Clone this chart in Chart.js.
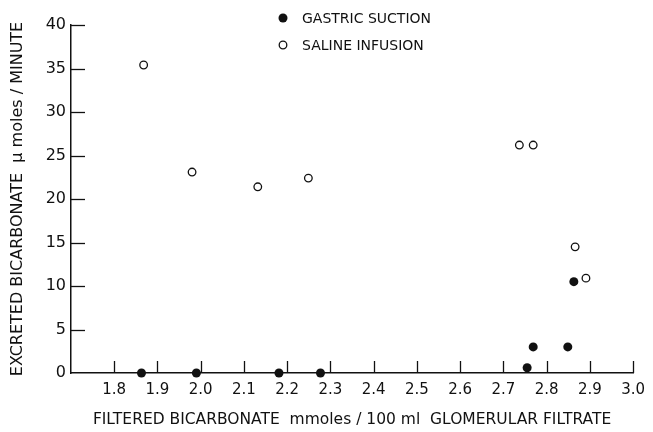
<!DOCTYPE html>
<html>
<head>
<meta charset="utf-8">
<script src="https://cdn.jsdelivr.net/npm/chart.js@4/dist/chart.umd.min.js"></script>
<style>
  html, body { margin: 0; padding: 0; background: #fff; }
  #wrap { width: 653px; height: 432px; }
</style>
</head>
<body>
<div id="wrap"><canvas id="grafico"></canvas></div>
<script>
// valores
const gastricX = [1.863, 1.990, 2.181, 2.277, 2.755, 2.769, 2.849, 2.863];
const gastricY = [0, 0, 0, 0, 0.6, 3.0, 3.0, 10.5];
const salineX = [1.868, 1.980, 2.132, 2.249, 2.737, 2.769, 2.866, 2.891];
const salineY = [35.4, 23.1, 21.4, 22.4, 26.2, 26.2, 14.5, 10.9];

const legendaTextos = ['GASTRIC SUCTION', 'SALINE INFUSION'];
const tituloX = 'FILTERED BICARBONATE  mmoles / 100 ml  GLOMERULAR FILTRATE';
const tituloY = 'EXCRETED BICARBONATE  μ moles / MINUTE';

const FONTE = '"DejaVu Sans", sans-serif';
const PRETO = '#111';

const pontos = (xs, ys) => xs.map((x, i) => ({ x: x, y: ys[i] }));

// marcas de escala para dentro + legenda
const marcasInternas = {
    id: 'marcasInternas',
    afterDraw(chart) {
        const ctx = chart.ctx;
        const sx = chart.scales.x, sy = chart.scales.y;
        const area = chart.chartArea;
        ctx.save();
        ctx.strokeStyle = PRETO;
        ctx.lineWidth = 1.3;
        sx.ticks.forEach(t => {
            if (Math.abs(t.value - 1.7) < 1e-6) return;
            const px = Math.round(sx.getPixelForValue(t.value)) + 0.5;
            ctx.beginPath();
            ctx.moveTo(px, area.bottom);
            ctx.lineTo(px, area.bottom - 12);
            ctx.stroke();
        });
        sy.ticks.forEach(t => {
            if (t.value === 0) return;
            const py = Math.round(sy.getPixelForValue(t.value)) + 0.5;
            ctx.beginPath();
            ctx.moveTo(area.left, py);
            ctx.lineTo(area.left + 14, py);
            ctx.stroke();
        });

        // legenda
        const lx = 283;
        const ly = [18, 45];
        ctx.font = '14px ' + FONTE;
        ctx.fillStyle = PRETO;
        ctx.textBaseline = 'middle';
        ctx.beginPath();
        ctx.arc(lx, ly[0], 4.5, 0, Math.PI * 2);
        ctx.fill();
        ctx.beginPath();
        ctx.lineWidth = 1.3;
        ctx.arc(lx, ly[1], 3.8, 0, Math.PI * 2);
        ctx.stroke();
        ctx.fillText(legendaTextos[0], 302, ly[0] + 1);
        ctx.fillText(legendaTextos[1], 302, ly[1] + 1);
        ctx.restore();
    }
};

new Chart(document.getElementById('grafico'), {
    type: 'scatter',
    data: {
        datasets: [
            {
                label: legendaTextos[0],
                data: pontos(gastricX, gastricY),
                backgroundColor: PRETO,
                borderColor: PRETO,
                pointRadius: 4.5,
                pointBorderWidth: 0,
                clip: false
            },
            {
                label: legendaTextos[1],
                data: pontos(salineX, salineY),
                backgroundColor: '#fff',
                borderColor: PRETO,
                pointRadius: 3.8,
                pointBorderWidth: 1.3,
                clip: false
            }
        ]
    },
    options: {
        responsive: true,
        maintainAspectRatio: false,
        animation: false,
        layout: { padding: { top: 25, right: 17, left: 0, bottom: 0 } },
        plugins: {
            legend: { display: false },
            tooltip: { enabled: false }
        },
        scales: {
            x: {
                type: 'linear',
                min: 1.7,
                max: 3.0,
                afterFit: (s) => { s.height = 59; },
                border: { display: true, color: PRETO, width: 1.5 },
                grid: { display: false, drawTicks: false },
                ticks: {
                    stepSize: 0.1,
                    padding: 8,
                    color: PRETO,
                    font: { family: FONTE, size: 15 },
                    callback: (v) => Math.abs(v - 1.7) < 1e-6 ? '' : v.toFixed(1)
                },
                title: {
                    display: true,
                    text: tituloX,
                    color: PRETO,
                    font: { family: FONTE, size: 15.5 },
                    padding: { top: 0, bottom: 3 }
                }
            },
            y: {
                type: 'linear',
                min: 0,
                max: 40,
                afterFit: (s) => { s.width = 71; },
                border: { display: true, color: PRETO, width: 1.5 },
                grid: { display: false, drawTicks: false },
                ticks: {
                    stepSize: 5,
                    padding: 5,
                    color: PRETO,
                    font: { family: FONTE, size: 16 }
                },
                title: {
                    display: true,
                    text: tituloY,
                    color: PRETO,
                    font: { family: FONTE, size: 16 },
                    padding: { top: 8, bottom: 0 }
                }
            }
        }
    },
    plugins: [marcasInternas]
});
</script>
</body>
</html>
